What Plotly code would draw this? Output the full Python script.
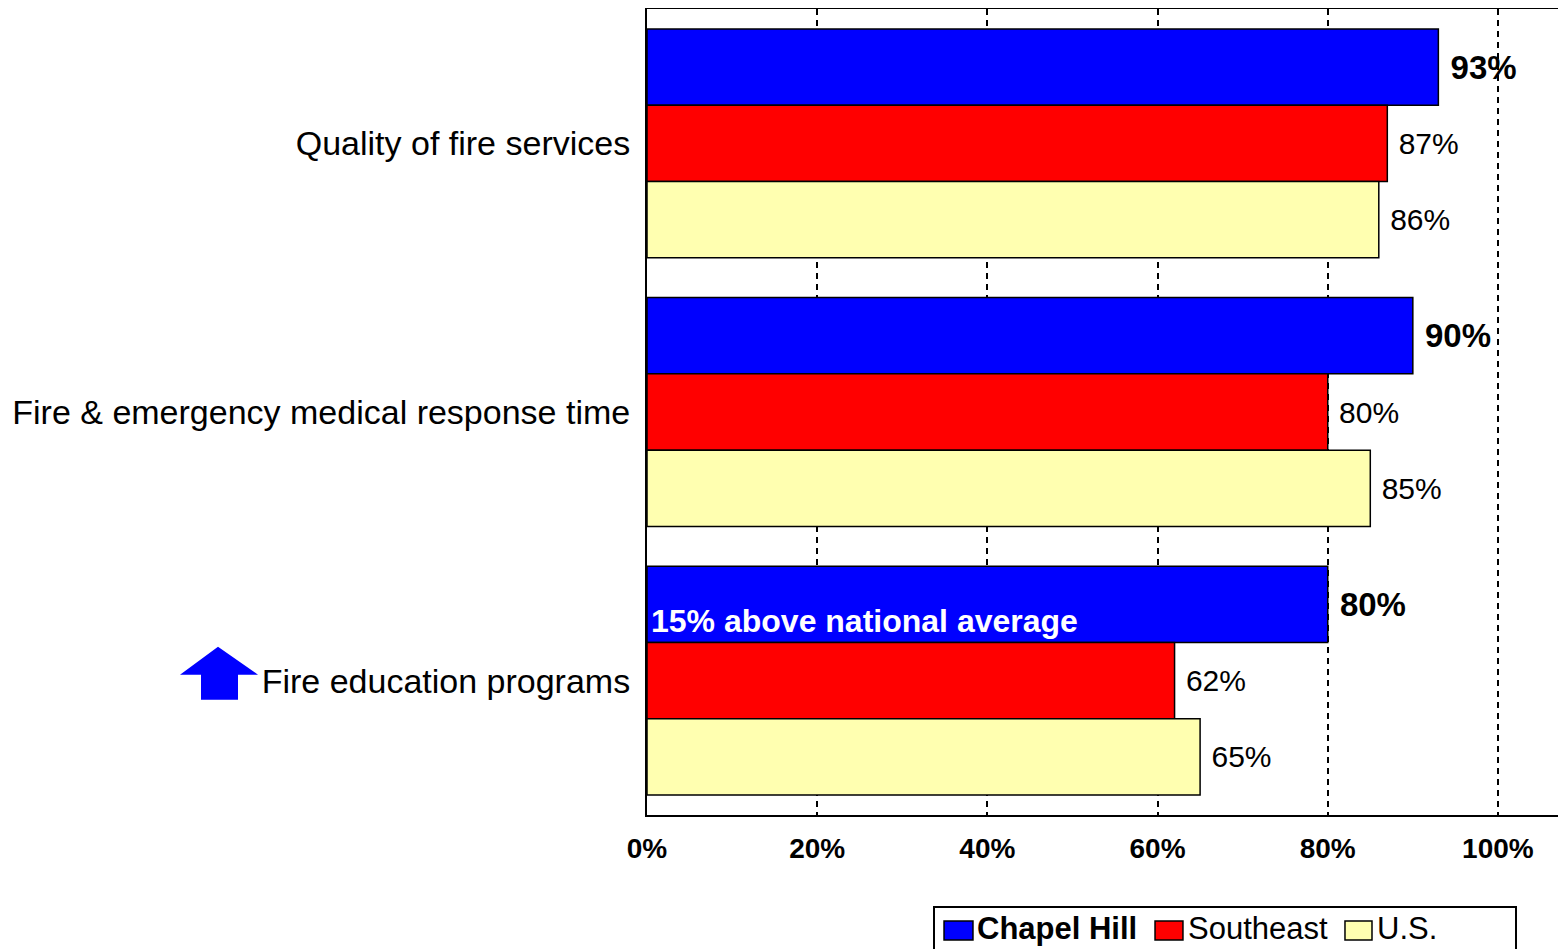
import plotly.graph_objects as go

categories = ["Quality of fire services",
              "Fire & emergency medical response time",
              "Fire education programs"]
series_names = ["Chapel Hill", "Southeast", "U.S."]
chapel_hill = [93, 90, 80]
southeast = [87, 80, 62]
us = [86, 85, 65]
tick_vals = [0, 20, 40, 60, 80, 100]
tick_text = ["0%", "20%", "40%", "60%", "80%", "100%"]
colors = ["#0000FF", "#FF0000", "#FFFFB0"]
note = "15% above national average"

NB = "\u00a0"
FONT = "Liberation Sans, Arial"
fig = go.Figure()
for name, vals, col in zip(series_names, [chapel_hill, southeast, us], colors):
    bold = name == "Chapel Hill"
    fig.add_trace(go.Bar(
        y=categories, x=vals, orientation="h", name=name, showlegend=False,
        marker=dict(color=col, line=dict(color="black", width=1.5)),
        text=[f"{NB}{v}%" for v in vals],
        textposition="outside",
        textfont=dict(family=FONT, size=33 if bold else 30, color="black",
                      weight="bold" if bold else "normal"),
        cliponaxis=False,
    ))

# page body has an 8px offset; margins compensate so the plot sits at 647..1566, 9..815
fig.update_layout(
    width=1566, height=949,
    margin=dict(l=639, r=8, t=1, b=142, autoexpand=False),
    paper_bgcolor="white", plot_bgcolor="white",
    barmode="group", bargap=0.148, bargroupgap=0,
    xaxis=dict(range=[0, 108], tickvals=tick_vals, ticktext=tick_text,
               showgrid=True, gridcolor="black", gridwidth=2, griddash="6px,5px",
               showline=True, mirror=True, linecolor="black", linewidth=2,
               ticks="", ticklabelstandoff=7, zeroline=False,
               tickfont=dict(family=FONT, size=28, color="black", weight="bold")),
    yaxis=dict(autorange="reversed", showline=True, linecolor="black", linewidth=2,
               ticks="", ticklabelstandoff=8, showgrid=False,
               tickfont=dict(family=FONT, size=34, color="black")),
)

fig.add_annotation(x=0, y=2, xref="x", yref="y", text=f"<b>{note}</b>",
                   showarrow=False, xanchor="left", yanchor="middle",
                   xshift=2, yshift=60,
                   font=dict(family=FONT, size=32, color="white"))

# blue up-arrow next to the "Fire education programs" label (paper refs so it is not clipped)
n = len(categories)
cat_idx = categories.index("Fire education programs")
y_center = 1 - (cat_idx + 0.5) / n
fig.add_shape(type="path", xref="paper", yref="paper",
              xsizemode="pixel", ysizemode="pixel",
              xanchor=0, yanchor=y_center,
              path="M -467 6 L -429 34 L -389 6 L -409 6 L -409 -19 L -446 -19 L -446 6 Z",
              fillcolor="#0000FF", line=dict(width=0), layer="above")

# legend box drawn manually (paper coords relative to plot area)
fig.add_shape(type="rect", xref="paper", yref="paper",
              x0=0.3123, x1=0.9456, y0=-0.19, y1=-0.1141,
              line=dict(color="black", width=2), fillcolor="white", layer="above")
sw_x = [(0.3232, 0.3547), (0.5528, 0.5832), (0.7595, 0.7889)]
tx_x = [0.3569, 0.5865, 0.7922]
for name, col, (a, b), tx in zip(series_names, colors, sw_x, tx_x):
    fig.add_shape(type="rect", xref="paper", yref="paper",
                  x0=a, x1=b, y0=-0.1551, y1=-0.1315,
                  line=dict(color="black", width=1.5), fillcolor=col, layer="above")
    fig.add_annotation(x=tx, y=-0.1414, xref="paper", yref="paper",
                       text=f"<b>{name}</b>" if name == "Chapel Hill" else name,
                       showarrow=False, xanchor="left", yanchor="middle",
                       font=dict(family=FONT, size=31, color="black"))

fig.write_html("out.html")
